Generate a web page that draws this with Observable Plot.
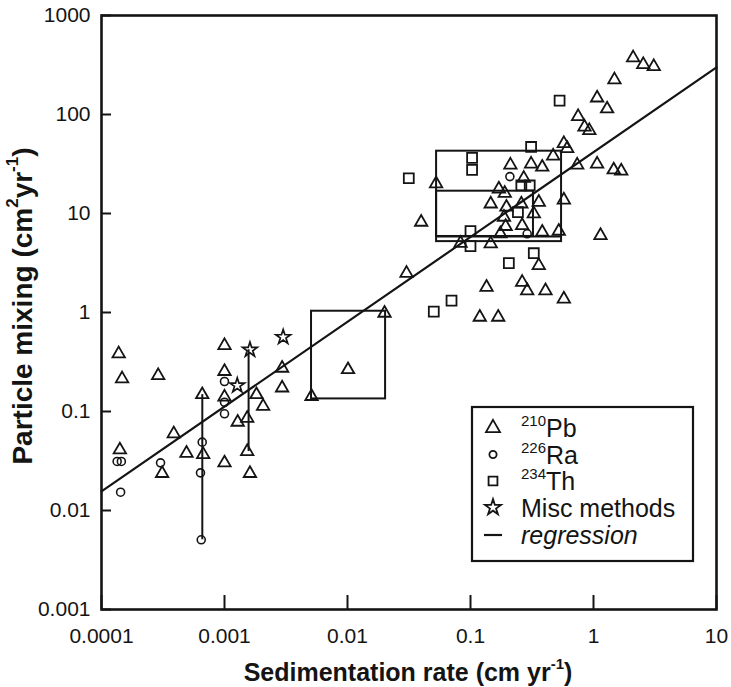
<!DOCTYPE html>
<html><head><meta charset="utf-8">
<script src="https://cdn.jsdelivr.net/npm/d3@7"></script>
<script src="https://cdn.jsdelivr.net/npm/@observablehq/plot@0.6"></script>
<style>
body{margin:0;background:#fff}
#chart{width:731px;height:687px}
</style>
</head><body><div id="chart"></div>
<script>
// --- data (sedimentation rate cm/yr, particle mixing cm2/yr) ---
const pbRate = [0.000138,0.000147,0.000289,0.000141,0.000387,0.000491,0.000311,0.000659,0.000671,0.001,0.001,0.001,0.001,0.00128,0.00153,0.00153,0.00161,0.00182,0.00206,0.00294,0.00294,0.0051,0.0101,0.02,0.0302,0.0397,0.0525,0.083,0.135,0.119,0.168,0.146,0.146,0.17,0.19,0.187,0.175,0.193,0.196,0.211,0.259,0.263,0.271,0.263,0.289,0.311,0.327,0.359,0.359,0.383,0.383,0.407,0.47,0.522,0.574,0.611,0.574,0.574,0.737,0.75,0.845,0.925,1.07,1.07,1.29,1.46,1.48,1.68,2.10,2.54,3.09,1.14];
const pbMix = [0.383,0.214,0.231,0.041,0.0596,0.0379,0.0237,0.148,0.0368,0.464,0.254,0.140,0.0303,0.078,0.0855,0.0394,0.0237,0.148,0.113,0.274,0.173,0.142,0.265,0.984,2.49,8.17,20,5.01,1.80,0.897,0.897,12.5,4.94,17.7,16.0,9.18,6.24,7.40,11.6,30.9,12.5,7.57,22.7,2.02,1.66,31.6,9.93,13.0,2.98,29.4,6.48,1.66,38.1,6.63,50.9,45.4,13.7,1.37,30.9,95.5,74.8,68.9,147,31.6,114,27.6,224,26.9,374,320,305,6.0];
const raRate = [0.000134,0.000145,0.000143,0.000302,0.000659,0.000638,0.000647,0.001,0.001,0.001,0.209,0.289];
const raMix = [0.0313,0.0313,0.0153,0.0303,0.049,0.024,0.00506,0.201,0.124,0.0948,23.6,6.24];
const thRate = [0.53,0.311,0.103,0.103,0.0315,0.259,0.303,0.243,0.1,0.1,0.327,0.205,0.0701,0.0503];
const thMix = [138,47,36.5,27.6,22.7,19.2,19.2,10.3,6.63,4.68,3.97,3.15,1.32,1.02];
const miscRate = [0.00161,0.00127,0.003];
const miscMix = [0.42,0.183,0.564];
// vertical ranges
const rangeRate = [0.00066,0.00157];
const rangeLow = [0.00506,0.0394];
const rangeHigh = [0.148,0.42];
// boxes
const boxRate1 = [0.0051,0.053,0.053];
const boxRate2 = [0.0204,0.55,0.325];
const boxMix1 = [0.134,5.2,5.86];
const boxMix2 = [1.03,42.6,16.8];
const bandMix = [5.86], bandRate1 = [0.053], bandRate2 = [0.55];
// regression endpoints
const regRate = [0.0001,10];
const regMix = [0.0156,299];
// ticks
const xTicks = [0.0001,0.001,0.01,0.1,1,10];
const xTickLabels = ["0.0001","0.001","0.01","0.1","1","10"];
const yTicks = [0.001,0.01,0.1,1,10,100,1000];
const yTickLabels = ["0.001","0.01","0.1","1","10","100","1000"];

const pts = (xs, ys) => xs.map((x, i) => ({x, y: ys[i]}));
const ink = "#141414";

const svg = Plot.plot({
  width: 731, height: 687,
  marginLeft: 101, marginRight: 15, marginTop: 15, marginBottom: 78,
  style: {fontFamily: "'Liberation Sans', Arial, sans-serif", fontSize: "21px", color: ink, background: "#fff"},
  x: {type: "log", domain: [1e-4, 10]},
  y: {type: "log", domain: [1e-3, 1e3]},
  marks: [
    Plot.rect(boxRate1.map((d, i) => i), {x1: i => boxRate1[i], x2: i => boxRate2[i], y1: i => boxMix1[i], y2: i => boxMix2[i], fill: "none", stroke: ink, strokeWidth: 2}),
    Plot.ruleY(bandMix.map((d, i) => i), {y: i => bandMix[i], x1: i => bandRate1[i], x2: i => bandRate2[i], stroke: ink, strokeWidth: 2}),
    Plot.ruleX(rangeRate.map((d, i) => i), {x: i => rangeRate[i], y1: i => rangeLow[i], y2: i => rangeHigh[i], stroke: ink, strokeWidth: 2}),
    Plot.line(pts(regRate, regMix), {x: "x", y: "y", stroke: ink, strokeWidth: 2.2}),
    Plot.dot(pts(pbRate, pbMix), {x: "x", y: "y", symbol: "triangle", r: 4.6, stroke: ink, strokeWidth: 1.8, fill: "none"}),
    Plot.dot(pts(raRate, raMix), {x: "x", y: "y", symbol: "circle", r: 4, stroke: ink, strokeWidth: 1.6, fill: "none"}),
    Plot.dot(pts(thRate, thMix), {x: "x", y: "y", symbol: "square", r: 5.6, stroke: ink, strokeWidth: 1.8, fill: "none"}),
    Plot.dot(pts(miscRate, miscMix), {x: "x", y: "y", symbol: "star", r: 4.6, stroke: ink, strokeWidth: 1.7, fill: "none"}),
    Plot.axisX({ticks: xTicks, tickFormat: d => xTickLabels[xTicks.indexOf(d)], tickSize: -14, tickPadding: 33, strokeWidth: 2, label: null}),
    Plot.axisY({ticks: yTicks, tickFormat: d => yTickLabels[yTicks.indexOf(d)], tickSize: -10, tickPadding: 21, strokeWidth: 2, label: null}),
    Plot.frame({stroke: ink, strokeWidth: 2.6})
  ]
});

const g = d3.select(svg).append("g").attr("fill", ink).attr("font-family", "'Liberation Sans', Arial, sans-serif");

// axis titles
const xt = g.append("text").attr("x", 408).attr("y", 672).attr("text-anchor", "middle").attr("dominant-baseline", "central")
  .attr("font-weight", "bold").attr("font-size", 25);
xt.append("tspan").text("Sedimentation rate (cm yr");
xt.append("tspan").attr("font-size", 15).attr("dy", -9).text("-1");
xt.append("tspan").attr("dy", 9).text(")");

const yt = g.append("text").attr("transform", "translate(22,306) rotate(-90)").attr("text-anchor", "middle").attr("dominant-baseline", "central")
  .attr("font-weight", "bold").attr("font-size", 28);
yt.append("tspan").text("Particle mixing (cm");
yt.append("tspan").attr("font-size", 17).attr("dy", -10).text("2");
yt.append("tspan").attr("dy", 10).text("yr");
yt.append("tspan").attr("font-size", 17).attr("dy", -10).text("-1");
yt.append("tspan").attr("dy", 10).text(")");

// legend
const lg = g.append("g");
lg.append("rect").attr("x", 472).attr("y", 407).attr("width", 221).attr("height", 154)
  .attr("fill", "#fff").attr("stroke", ink).attr("stroke-width", 2.2);
const rows = [
  {sym: d3.symbolTriangle, size: Math.PI * 5.2 * 5.2, sup: "210", txt: "Pb"},
  {sym: d3.symbolCircle, size: Math.PI * 3.6 * 3.6, sup: "226", txt: "Ra"},
  {sym: d3.symbolSquare, size: Math.PI * 5 * 5, sup: "234", txt: "Th"},
  {sym: d3.symbolStar, size: Math.PI * 5 * 5, sup: "", txt: "Misc methods"},
  {sym: null, sup: "", txt: "regression", italic: true}
];
const rowY = [428, 454.5, 481, 507.5, 535];
rows.forEach((r, i) => {
  if (r.sym) {
    lg.append("path").attr("d", d3.symbol(r.sym, r.size)()).attr("transform", `translate(493,${rowY[i]})`)
      .attr("fill", "none").attr("stroke", ink).attr("stroke-width", 1.8);
  } else {
    lg.append("line").attr("x1", 484).attr("x2", 502).attr("y1", rowY[i]).attr("y2", rowY[i]).attr("stroke", ink).attr("stroke-width", 2.2);
  }
  const t = lg.append("text").attr("x", 521).attr("y", rowY[i]).attr("text-anchor", "start").attr("dominant-baseline", "central").attr("font-size", 25);
  if (r.italic) t.attr("font-style", "italic");
  if (r.sup) {
    t.append("tspan").attr("font-size", 15).attr("dy", -8).text(r.sup);
    t.append("tspan").attr("dy", 8).text(r.txt);
  } else t.text(r.txt);
});

document.getElementById("chart").appendChild(svg);
</script>
</body></html>
